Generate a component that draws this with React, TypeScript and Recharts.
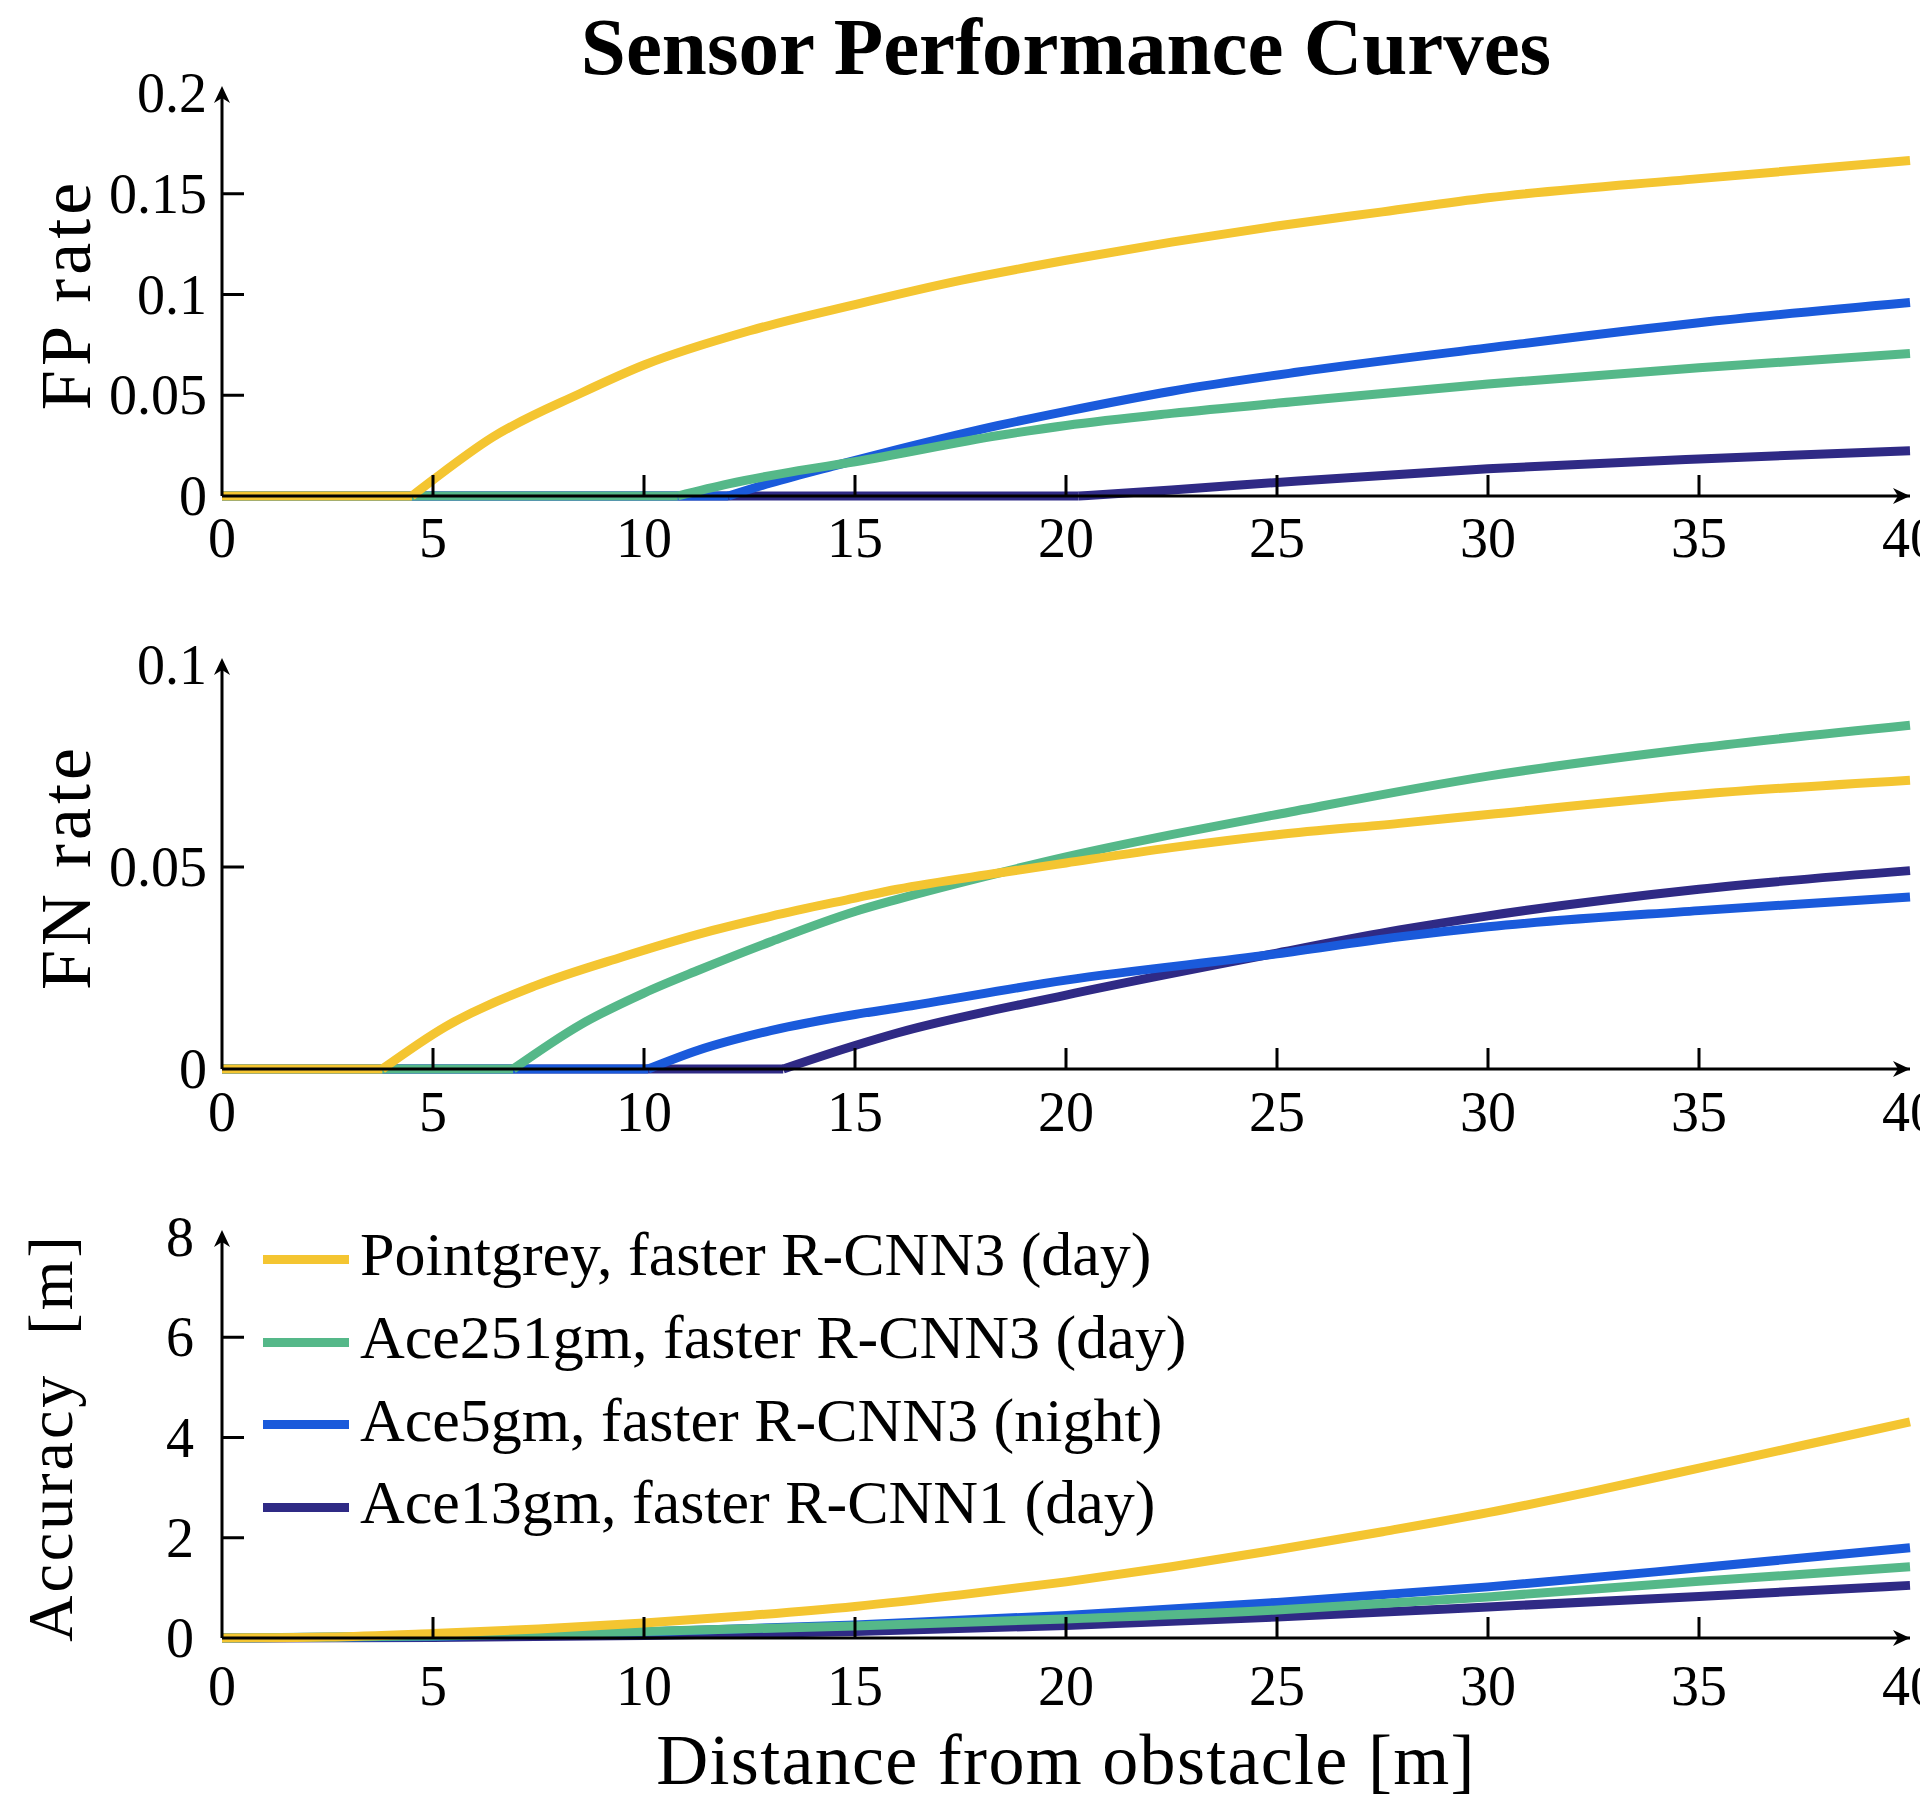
import React from "react";
import { LineChart, Line, XAxis, YAxis, ReferenceDot, Legend } from "recharts";

const FONT = '"Liberation Serif", "Times New Roman", serif';

const DIST_TICKS = [0, 5, 10, 15, 20, 25, 30, 35, 40];
const FP_TICKS = [0, 0.05, 0.1, 0.15, 0.2];
const FN_TICKS = [0, 0.05, 0.1];
const ACC_TICKS = [0, 2, 4, 6, 8];

// legend order; lines are drawn in reverse so Pointgrey ends up on top
const SERIES = [
  { id: "pointgrey", name: "Pointgrey, faster R-CNN3 (day)", color: "#F4C531" },
  { id: "ace251", name: "Ace251gm, faster R-CNN3 (day)", color: "#55B889" },
  { id: "ace5", name: "Ace5gm, faster R-CNN3 (night)", color: "#1A5ADB" },
  { id: "ace13", name: "Ace13gm, faster R-CNN1 (day)", color: "#2F2A85" },
];

// [distance, value]
const fpPointgrey = [[0, 0], [4.5, 0], [5, 0.008], [6.4, 0.029], [8.5, 0.051], [10, 0.065], [12.5, 0.082], [15, 0.095], [17.5, 0.107], [20, 0.117], [22.5, 0.126], [25, 0.134], [27.5, 0.141], [30, 0.148], [35, 0.1575], [40, 0.1665]];
const fpAce251 = [[0, 0], [10.8, 0], [12, 0.006], [13.5, 0.012], [15, 0.017], [18.4, 0.03], [20, 0.035], [22.5, 0.041], [25.5, 0.047], [30, 0.0556], [35, 0.0636], [40, 0.0707]];
const fpAce5 = [[0, 0], [12, 0], [13, 0.0065], [14.5, 0.015], [16, 0.023], [18.4, 0.035], [20, 0.042], [22.5, 0.052], [25.5, 0.0615], [30, 0.0735], [35, 0.086], [40, 0.096]];
const fpAce13 = [[0, 0], [20.3, 0], [22.5, 0.003], [25.5, 0.0075], [30, 0.0135], [35, 0.0184], [40, 0.0225]];

const fnPointgrey = [[0, 0], [3.8, 0], [5.3, 0.0105], [7.4, 0.0205], [9.5, 0.0278], [11.3, 0.0334], [13, 0.0378], [15, 0.0423], [16, 0.0445], [18.4, 0.0485], [20, 0.051], [22.5, 0.0548], [25, 0.058], [27.9, 0.0608], [30, 0.063], [35, 0.068], [40, 0.0715]];
const fnAce251 = [[0, 0], [6.9, 0], [8.5, 0.011], [10, 0.0188], [11.3, 0.0245], [13, 0.0315], [15, 0.039], [16, 0.042], [18.4, 0.0485], [20, 0.0525], [22.5, 0.058], [25, 0.063], [30, 0.0725], [35, 0.0795], [40, 0.0851]];
const fnAce5 = [[0, 0], [10.1, 0], [11.3, 0.0047], [13, 0.0095], [15, 0.0135], [16, 0.0151], [20, 0.022], [25, 0.0285], [27.9, 0.0327], [30, 0.0352], [35, 0.0392], [40, 0.0426]];
const fnAce13 = [[0, 0], [13.3, 0], [15, 0.0058], [16, 0.0089], [20, 0.0183], [25, 0.0287], [27.9, 0.0344], [30, 0.0379], [35, 0.0445], [40, 0.0491]];

const accPointgrey = [[0, 0], [2.5, 0.02], [5, 0.09], [7.5, 0.18], [10, 0.3], [12.5, 0.45], [15, 0.63], [17.5, 0.86], [20, 1.12], [22.5, 1.42], [25, 1.76], [27.5, 2.12], [30, 2.5], [32.5, 2.93], [35, 3.39], [37.5, 3.85], [40, 4.31]];
const accAce251 = [[0, 0], [5, 0.04], [10, 0.13], [15, 0.24], [20, 0.38], [25, 0.56], [30, 0.82], [35, 1.13], [40, 1.42]];
const accAce5 = [[0, 0], [5, 0.03], [10, 0.12], [15, 0.26], [20, 0.45], [25, 0.71], [30, 1.02], [35, 1.4], [40, 1.8]];
const accAce13 = [[0, 0], [5, 0.01], [10, 0.05], [15, 0.13], [20, 0.25], [25, 0.42], [30, 0.62], [35, 0.83], [40, 1.05]];

const toPoints = (pairs: number[][]) => pairs.map(([d, v]) => ({ d, v }));

const FP_DATA: Record<string, number[][]> = { pointgrey: fpPointgrey, ace251: fpAce251, ace5: fpAce5, ace13: fpAce13 };
const FN_DATA: Record<string, number[][]> = { pointgrey: fnPointgrey, ace251: fnAce251, ace5: fnAce5, ace13: fnAce13 };
const ACC_DATA: Record<string, number[][]> = { pointgrey: accPointgrey, ace251: accAce251, ace5: accAce5, ace13: accAce13 };

const XTick = ({ x, y, payload, gap }: any) => {
  const v = payload.value;
  return (
    <g>
      {v !== 0 && v !== 40 && <line x1={x} x2={x} y1={y} y2={y - 21} stroke="#000" strokeWidth={3} />}
      <text x={x} y={y + gap} textAnchor="middle" fontFamily={FONT} fontSize={56} fill="#000">
        {v}
      </text>
    </g>
  );
};

const YTick = ({ x, y, payload, right, max }: any) => {
  const v = payload.value;
  return (
    <g>
      {v !== 0 && v !== max && <line x1={x} x2={x + 22} y1={y} y2={y} stroke="#000" strokeWidth={3} />}
      <text x={right} y={y} textAnchor="end" dominantBaseline="central" fontFamily={FONT} fontSize={56} fill="#000">
        {v}
      </text>
    </g>
  );
};

const xArrow = (p: any) => (
  <path d={`M${p.cx},${p.cy} L${p.cx - 17},${p.cy - 8} L${p.cx - 12},${p.cy} L${p.cx - 17},${p.cy + 8} Z`} fill="#000" />
);
const yArrow = (p: any) => {
  const t = p.cy - 7;
  return <path d={`M${p.cx},${t} L${p.cx - 8},${t + 17} L${p.cx},${t + 12} L${p.cx + 8},${t + 17} Z`} fill="#000" />;
};

const renderLegend = () => (
  <div style={{ fontFamily: FONT, fontSize: 62, color: "#000" }}>
    {SERIES.map((s) => (
      <div key={s.id} style={{ display: "flex", alignItems: "center", height: 82.7 }}>
        <div style={{ width: 86, height: 9, background: s.color }} />
        <span style={{ marginLeft: 11, lineHeight: 1, position: "relative", top: -5, whiteSpace: "nowrap" }}>{s.name}</span>
      </div>
    ))}
  </div>
);

interface PanelProps {
  top: number;
  height: number;
  plotTop: number;
  plotBottom: number;
  yMax: number;
  yTicks: number[];
  data: Record<string, number[][]>;
  kinked: boolean;
  yTitle: string;
  yTitleX: number;
  yTitleSize: number;
  yTitleSpacing: number;
  yLabelRight: number;
  xLabelGap: number;
  xTitle?: string;
  showLegend?: boolean;
}

const Panel = (p: PanelProps) => {
  const titleY = (p.plotTop + p.plotBottom) / 2 - p.top;
  const lineProps = { dataKey: "v", strokeWidth: 9, dot: false, activeDot: false, isAnimationActive: false } as const;
  return (
    <div style={{ position: "absolute", left: 0, top: p.top }}>
      <LineChart
        width={1920}
        height={p.height}
        margin={{ top: p.plotTop - p.top, right: 10, bottom: p.top + p.height - p.plotBottom - 1, left: 221 }}
      >
        <XAxis
          type="number"
          dataKey="d"
          domain={[0, 40]}
          ticks={DIST_TICKS}
          interval={0}
          height={1}
          tickSize={0}
          tickMargin={0}
          tickLine={false}
          axisLine={{ stroke: "#000", strokeWidth: 3 }}
          tick={<XTick gap={p.xLabelGap} />}
          label={
            p.xTitle
              ? {
                  content: () => (
                    <text x={1066} y={1784 - p.top} textAnchor="middle" fontFamily={FONT} fontSize={72} letterSpacing={1.3} fill="#000">
                      {p.xTitle}
                    </text>
                  ),
                }
              : undefined
          }
        />
        <YAxis
          type="number"
          domain={[0, p.yMax]}
          ticks={p.yTicks}
          interval={0}
          width={1}
          tickSize={0}
          tickMargin={0}
          tickLine={false}
          axisLine={{ stroke: "#000", strokeWidth: 3 }}
          tick={<YTick right={p.yLabelRight} max={p.yMax} />}
          label={{
            content: () => (
              <text
                x={p.yTitleX}
                y={titleY}
                transform={`rotate(-90 ${p.yTitleX} ${titleY})`}
                textAnchor="middle"
                fontFamily={FONT}
                fontSize={p.yTitleSize}
                letterSpacing={p.yTitleSpacing}
                fill="#000"
              >
                {p.yTitle}
              </text>
            ),
          }}
        />
        {[...SERIES].reverse().map((s) => {
          const pts = toPoints(p.data[s.id]);
          if (!p.kinked) {
            return <Line key={s.id} name={s.name} data={pts} type="monotone" stroke={s.color} {...lineProps} />;
          }
          // flat stretch and the rising part drawn separately so the start keeps its sharp corner
          return (
            <React.Fragment key={s.id}>
              <Line name={s.name} data={pts.slice(0, 2)} type="linear" stroke={s.color} {...lineProps} />
              <Line name={s.name + " "} data={pts.slice(1)} type="monotone" stroke={s.color} {...lineProps} />
            </React.Fragment>
          );
        })}
        <ReferenceDot x={40} y={0} r={0} ifOverflow="visible" shape={xArrow} />
        <ReferenceDot x={0} y={p.yMax} r={0} ifOverflow="visible" shape={yArrow} />
        {p.showLegend && (
          <Legend
            content={renderLegend}
            layout="vertical"
            align="center"
            verticalAlign="middle"
            wrapperStyle={{ left: 263, top: 1259 - p.top - 41, width: "auto", height: "auto" }}
          />
        )}
      </LineChart>
    </div>
  );
};

export default function App() {
  return (
    <div style={{ position: "absolute", left: 0, top: 0, width: 1920, height: 1802, background: "#fff", overflow: "hidden" }}>
      <div
        style={{
          position: "absolute",
          left: 566,
          top: 7,
          width: 1000,
          textAlign: "center",
          fontFamily: FONT,
          fontWeight: "bold",
          fontSize: 81,
          lineHeight: "81px",
          whiteSpace: "nowrap",
          color: "#000",
        }}
      >
        Sensor Performance Curves
      </div>
      <Panel
        top={0}
        height={600}
        plotTop={93}
        plotBottom={496}
        yMax={0.2}
        yTicks={FP_TICKS}
        data={FP_DATA}
        kinked
        yTitle="FP rate"
        yTitleX={90}
        yTitleSize={72}
        yTitleSpacing={4}
        yLabelRight={207}
        xLabelGap={61}
      />
      <Panel
        top={600}
        height={580}
        plotTop={665}
        plotBottom={1069}
        yMax={0.1}
        yTicks={FN_TICKS}
        data={FN_DATA}
        kinked
        yTitle="FN rate"
        yTitleX={90}
        yTitleSize={72}
        yTitleSpacing={4}
        yLabelRight={207}
        xLabelGap={62}
      />
      <Panel
        top={1180}
        height={622}
        plotTop={1237}
        plotBottom={1638}
        yMax={8}
        yTicks={ACC_TICKS}
        data={ACC_DATA}
        kinked={false}
        yTitle={"Accuracy\u00A0\u00A0[m]"}
        yTitleX={72}
        yTitleSize={64}
        yTitleSpacing={3}
        yLabelRight={194}
        xLabelGap={67}
        xTitle="Distance from obstacle [m]"
        showLegend
      />
    </div>
  );
}
